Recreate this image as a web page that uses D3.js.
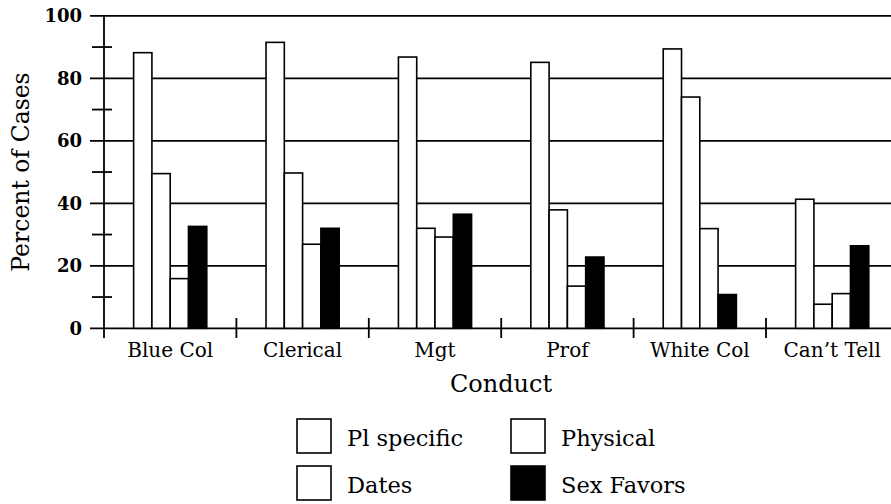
<!DOCTYPE html>
<html>
<head>
<meta charset="utf-8">
<script src="https://cdn.jsdelivr.net/npm/d3@7"></script>
<style>
  body { margin: 0; background: #fff; }
  svg { display: block; }
</style>
</head>
<body>
<div class="chart"></div>
<script>
// categories and series
var categories = ["Blue Col", "Clerical", "Mgt", "Prof", "White Col", "Can\u2019t Tell"];
var series = ["Pl specific", "Physical", "Dates", "Sex Favors"];

// percent of cases, one array per series
var plSpecific = [88.2, 91.5, 86.8, 85.1, 89.4, 41.3];
var physical   = [49.5, 49.7, 32.0, 37.9, 74.0, 7.7];
var dates      = [15.9, 26.9, 29.2, 13.5, 31.9, 11.1];
var sexFavors  = [32.6, 32.0, 36.5, 22.8, 10.8, 26.4];

var yTicks = [0, 20, 40, 60, 80, 100];
var yMinorTicks = [10, 30, 50, 70, 90];

var width = 891, height = 504;
var fills = { "Pl specific": "#fff", "Physical": "#fff", "Dates": "#fff", "Sex Favors": "#000" };
var serif = "'DejaVu Serif', serif";

var rows = categories.map(function(c, i) {
    return { cat: c, values: [plSpecific[i], physical[i], dates[i], sexFavors[i]] };
});

var svg = d3.select('.chart')
    .append('svg')
    .attr('width', width)
    .attr('height', height)
    .attr('font-family', serif);

// scales
var x = d3.scaleBand()
    .domain(categories)
    .range([104, 104 + 6 * 132.4])
    .padding(0);

var xSub = d3.scaleBand()
    .domain(series)
    .range([0, x.bandwidth()])
    .paddingInner(0)
    .paddingOuter(1.62);

var y = d3.scaleLinear()
    .domain([0, 100])
    .range([328.3, 15.8]);

// gridlines (behind bars)
svg.append('g')
    .selectAll('line')
    .data(yTicks)
    .enter()
    .append('line')
    .attr('x1', 90)
    .attr('x2', width)
    .attr('y1', function(d){ return y(d); })
    .attr('y2', function(d){ return y(d); })
    .style('stroke', '#000')
    .style('stroke-width', 1.8);

// bars
var groups = svg.selectAll('g.cat')
    .data(rows)
    .enter()
    .append('g')
    .attr('class', 'cat')
    .attr('transform', function(d){ return 'translate(' + x(d.cat) + ',0)'; });

groups.selectAll('rect')
    .data(function(d){ return d.values.map(function(v, j){ return { s: series[j], v: v }; }); })
    .enter()
    .append('rect')
    .attr('x', function(d){ return xSub(d.s); })
    .attr('y', function(d){ return y(d.v); })
    .attr('width', xSub.bandwidth())
    .attr('height', function(d){ return y(0) - y(d.v); })
    .style('fill', function(d){ return fills[d.s]; })
    .style('stroke', '#000')
    .style('stroke-width', 1.6);

// y axis line
svg.append('line')
    .attr('x1', 104).attr('x2', 104)
    .attr('y1', y(100)).attr('y2', 338)
    .style('stroke', '#000')
    .style('stroke-width', 1.8);

// minor ticks crossing axis
svg.append('g')
    .selectAll('line')
    .data(yMinorTicks)
    .enter()
    .append('line')
    .attr('x1', 92)
    .attr('x2', 112)
    .attr('y1', function(d){ return y(d); })
    .attr('y2', function(d){ return y(d); })
    .style('stroke', '#000')
    .style('stroke-width', 1.8);

// y tick labels
svg.append('g')
    .selectAll('text')
    .data(yTicks)
    .enter()
    .append('text')
    .attr('x', 82)
    .attr('y', function(d){ return y(d); })
    .attr('dy', '0.36em')
    .style('text-anchor', 'end')
    .style('font-size', '18px')
    .style('font-weight', 'bold')
    .text(function(d){ return d; });

// category ticks at band edges
svg.append('g')
    .selectAll('line')
    .data(categories.slice(1))
    .enter()
    .append('line')
    .attr('x1', function(d){ return x(d); })
    .attr('x2', function(d){ return x(d); })
    .attr('y1', 318)
    .attr('y2', 338)
    .style('stroke', '#000')
    .style('stroke-width', 1.8);

// category labels
svg.append('g')
    .selectAll('text')
    .data(categories)
    .enter()
    .append('text')
    .attr('x', function(d){ return x(d) + x.bandwidth() / 2; })
    .attr('y', 357)
    .style('text-anchor', 'middle')
    .style('font-size', '20px')
    .text(function(d){ return d; });

// axis titles
svg.append('text')
    .attr('x', 501)
    .attr('y', 392)
    .style('text-anchor', 'middle')
    .style('font-size', '24px')
    .text('Conduct');

svg.append('text')
    .attr('transform', 'translate(29,172) rotate(-90)')
    .style('text-anchor', 'middle')
    .style('font-size', '23.5px')
    .text('Percent of Cases');

// legend
var legendPos = [[297, 419], [511, 419], [297, 466], [511, 466]];
var legendOrder = ["Pl specific", "Physical", "Dates", "Sex Favors"];
var legend = svg.selectAll('g.legend')
    .data(legendOrder)
    .enter()
    .append('g')
    .attr('class', 'legend')
    .attr('transform', function(d, i){ return 'translate(' + legendPos[i][0] + ',' + legendPos[i][1] + ')'; });

legend.append('rect')
    .attr('width', 34)
    .attr('height', 34)
    .style('fill', function(d){ return fills[d]; })
    .style('stroke', '#000')
    .style('stroke-width', 1.6);

legend.append('text')
    .attr('x', 50)
    .attr('y', 27)
    .style('font-size', '22.5px')
    .text(function(d){ return d; });
</script>
</body>
</html>
